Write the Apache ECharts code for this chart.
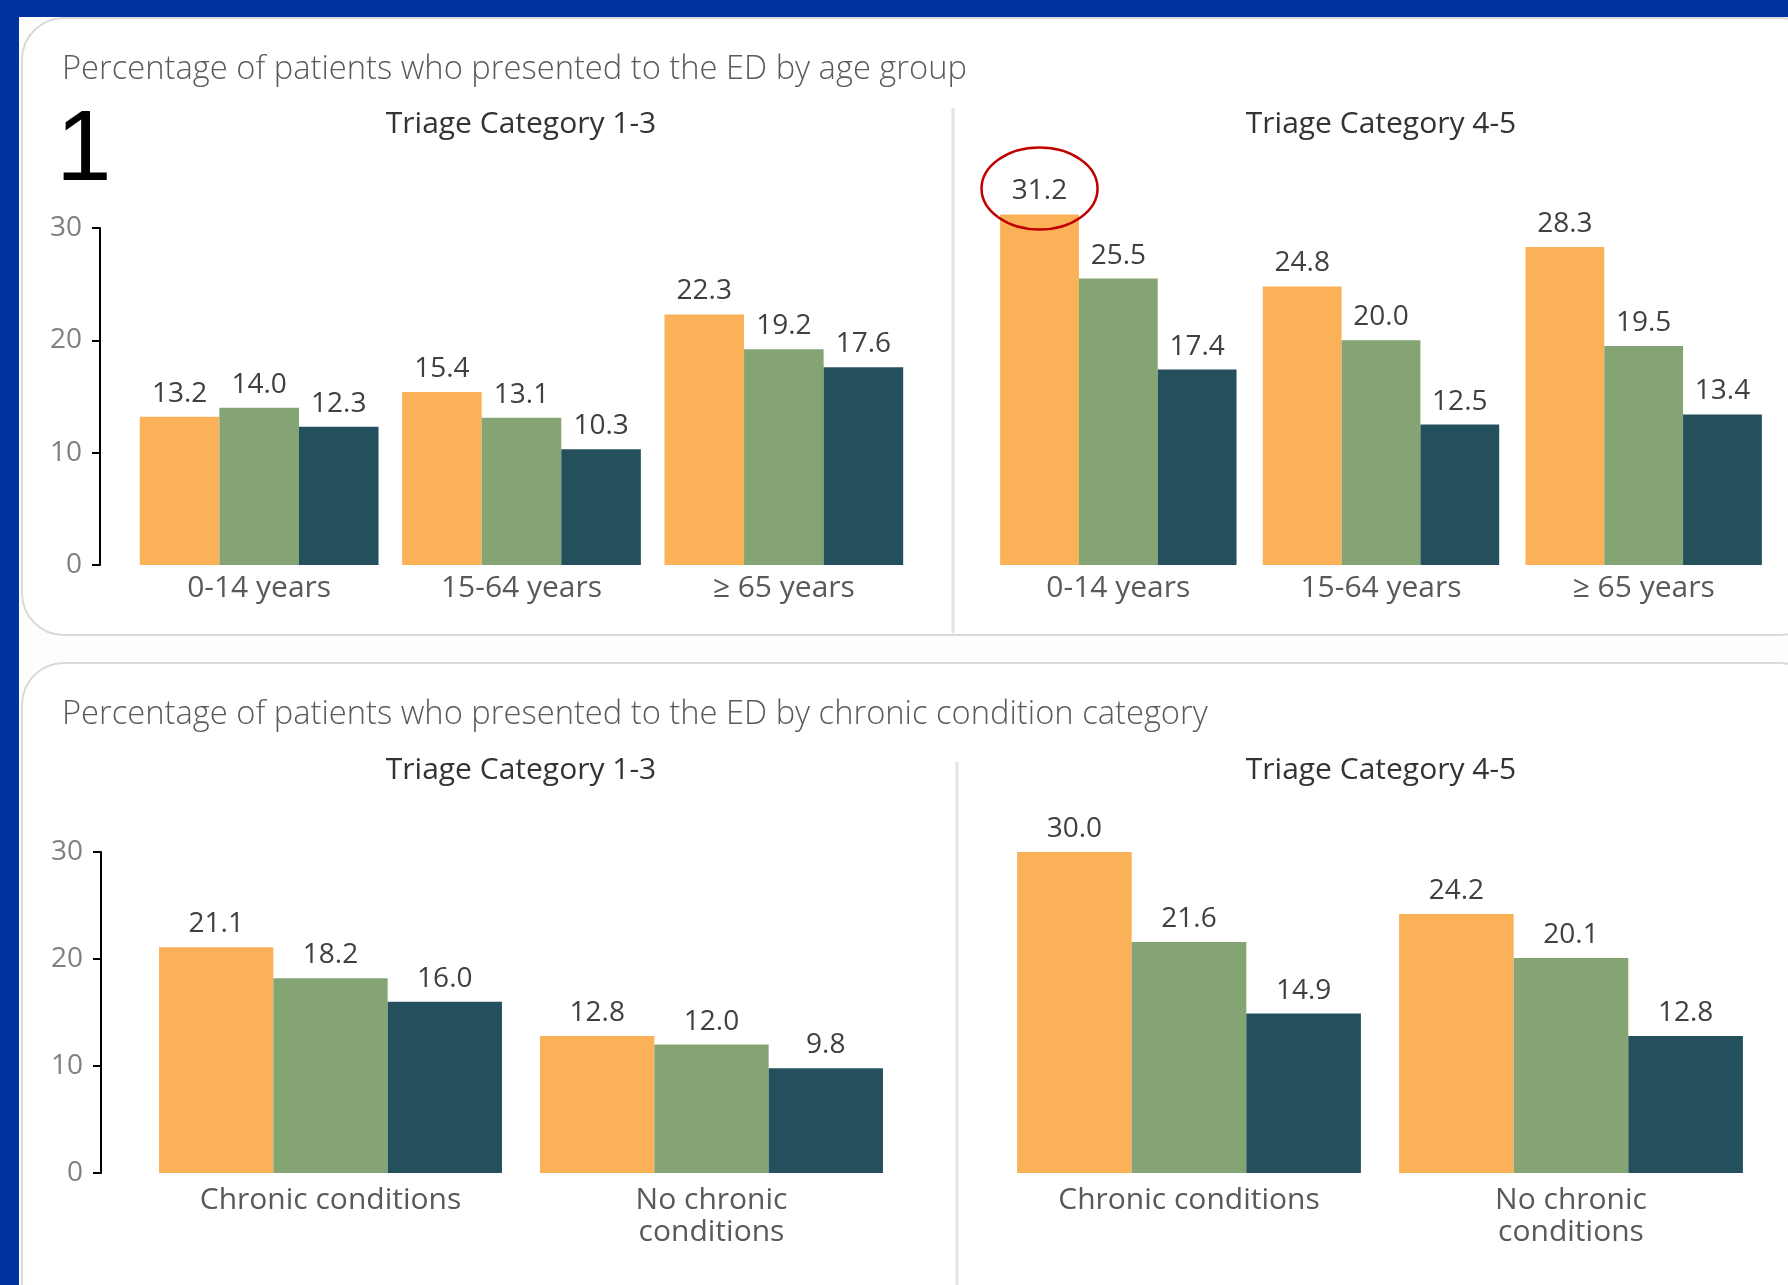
<!DOCTYPE html>
<html>
<head>
<meta charset="utf-8">
<script src="https://cdn.jsdelivr.net/npm/echarts@6/dist/echarts.min.js"></script>
<style>
html, body { margin: 0; padding: 0; background: #fff; }
#main { width: 1788px; height: 1285px; }
</style>
</head>
<body>
<div id="main"></div>
<script>
// categories
var ageCats = ['0-14 years', '15-64 years', '\u2265 65 years'];
var chronicCats = ['Chronic conditions', 'No chronic\nconditions'];

// age group, triage 1-3
var age13Orange = [13.2, 15.4, 22.3];
var age13Green = [14.0, 13.1, 19.2];
var age13Teal = [12.3, 10.3, 17.6];
// age group, triage 4-5
var age45Orange = [31.2, 24.8, 28.3];
var age45Green = [25.5, 20.0, 19.5];
var age45Teal = [17.4, 12.5, 13.4];
// chronic condition, triage 1-3
var chr13Orange = [21.1, 12.8];
var chr13Green = [18.2, 12.0];
var chr13Teal = [16.0, 9.8];
// chronic condition, triage 4-5
var chr45Orange = [30.0, 24.2];
var chr45Green = [21.6, 20.1];
var chr45Teal = [14.9, 12.8];

var yTicks = [0, 10, 20, 30];

var ORANGE = '#FBB157', GREEN = '#84A573', TEAL = '#244F5C';
var FONT = '"Open Sans", "Noto Sans", sans-serif';

var chart = echarts.init(document.getElementById('main'));

function bars(idx, name, vals, color, gap) {
    return {
        name: name,
        type: 'bar',
        xAxisIndex: idx,
        yAxisIndex: idx,
        data: vals,
        barGap: '0%',
        barCategoryGap: gap,
        clip: false,
        silent: true,
        itemStyle: {color: color},
        label: {
            show: true,
            position: 'top',
            distance: 9,
            color: '#404040',
            fontFamily: FONT,
            fontSize: 28,
            formatter: function (p) { return p.value.toFixed(1); }
        }
    };
}

function xAx(idx, cats) {
    return {
        type: 'category',
        gridIndex: idx,
        data: cats,
        axisLine: {show: false},
        axisTick: {show: false},
        axisLabel: {
            color: '#595959',
            fontFamily: FONT,
            fontSize: 30,
            lineHeight: 32,
            margin: idx < 2 ? 7 : 11,
            interval: 0
        }
    };
}

function yAx(idx, visible, offset) {
    return {
        type: 'value',
        gridIndex: idx,
        min: 0,
        max: 30,
        interval: 10,
        show: visible,
        offset: offset,
        splitLine: {show: false},
        axisLine: {show: true, lineStyle: {color: '#000', width: 2}},
        axisTick: {show: true, length: 8, lineStyle: {color: '#000', width: 2}},
        axisLabel: {
            color: '#808080',
            fontFamily: FONT,
            fontSize: 28,
            margin: 18,
            formatter: function (v) { return yTicks.indexOf(v) >= 0 ? String(v) : ''; }
        }
    };
}

function txt(x, y, s, size, color, weight, align) {
    return {
        type: 'text',
        x: x, y: y,
        silent: true,
        style: {
            text: s,
            fill: color,
            fontFamily: FONT,
            fontSize: size,
            fontWeight: weight,
            textAlign: align, align: align,
            textVerticalAlign: 'middle', verticalAlign: 'middle'
        }
    };
}

var graphics = [
    // page frame
    {type: 'rect', silent: true, z: -10, shape: {x: 0, y: 0, width: 1788, height: 1285}, style: {fill: '#0033A0'}},
    {type: 'rect', silent: true, z: -9, shape: {x: 19, y: 17, width: 1800, height: 1300}, style: {fill: '#fdfdfd'}},
    {type: 'rect', silent: true, z: -8, shape: {x: 22, y: 18, width: 1800, height: 617, r: 42},
        style: {fill: '#fff', stroke: '#d9d9d9', lineWidth: 2}},
    {type: 'rect', silent: true, z: -8, shape: {x: 22, y: 663, width: 1800, height: 700, r: 42},
        style: {fill: '#fff', stroke: '#d9d9d9', lineWidth: 2}},
    // dividers
    {type: 'line', silent: true, z: -7, shape: {x1: 953, y1: 108, x2: 953, y2: 633}, style: {stroke: '#e3e3e3', lineWidth: 3}},
    {type: 'line', silent: true, z: -7, shape: {x1: 957, y1: 762, x2: 957, y2: 1285}, style: {stroke: '#e3e3e3', lineWidth: 3}},
    // texts
    txt(62, 70, 'Percentage of patients who presented to the ED by age group', 32.7, '#5a5a5a', 300, 'left'),
    txt(62, 715, 'Percentage of patients who presented to the ED by chronic condition category', 32.7, '#5a5a5a', 300, 'left'),
    txt(521, 124, 'Triage Category 1-3', 30, '#333', 'normal', 'center'),
    txt(1381, 124, 'Triage Category 4-5', 30, '#333', 'normal', 'center'),
    txt(521, 770, 'Triage Category 1-3', 30, '#333', 'normal', 'center'),
    txt(1381, 770, 'Triage Category 4-5', 30, '#333', 'normal', 'center'),
    {type: 'text', x: 56, y: 152, silent: true,
        style: {text: '1', fill: '#000', fontFamily: '"Liberation Sans", Arial, sans-serif', fontSize: 100,
            textAlign: 'left', align: 'left', textVerticalAlign: 'middle', verticalAlign: 'middle'}}
];

var option = {
    animation: false,
    backgroundColor: '#fff',
    grid: [
        {left: 128, top: 228, width: 787, height: 337},
        {left: 987, top: 228, width: 788, height: 337},
        {left: 140, top: 852, width: 762, height: 321},
        {left: 998, top: 852, width: 764, height: 321}
    ],
    xAxis: [xAx(0, ageCats), xAx(1, ageCats), xAx(2, chronicCats), xAx(3, chronicCats)],
    yAxis: [yAx(0, true, 28), yAx(1, false, 0), yAx(2, true, 39), yAx(3, false, 0)],
    graphic: graphics,
    series: [
        bars(0, 'a', age13Orange, ORANGE, '9%'),
        bars(0, 'b', age13Green, GREEN, '9%'),
        bars(0, 'c', age13Teal, TEAL, '9%'),
        bars(1, 'a', age45Orange, ORANGE, '10%'),
        bars(1, 'b', age45Green, GREEN, '10%'),
        bars(1, 'c', age45Teal, TEAL, '10%'),
        bars(2, 'a', chr13Orange, ORANGE, '10%'),
        bars(2, 'b', chr13Green, GREEN, '10%'),
        bars(2, 'c', chr13Teal, TEAL, '10%'),
        bars(3, 'a', chr45Orange, ORANGE, '10%'),
        bars(3, 'b', chr45Green, GREEN, '10%'),
        bars(3, 'c', chr45Teal, TEAL, '10%')
    ]
};
chart.setOption(option);

// red ring around the highest value (triage 4-5, 0-14 years)
var lay = chart.getModel().getSeriesByIndex(3).getData().getItemLayout(0);
if (lay) {
    var barTop = Math.min(lay.y, lay.y + lay.height);
    graphics.push({
        type: 'ellipse', silent: true, z: 100,
        shape: {cx: lay.x + lay.width / 2, cy: barTop - 26, rx: 58, ry: 41},
        style: {fill: 'none', stroke: '#C00000', lineWidth: 2.5}
    });
    chart.setOption({graphic: graphics});
}
</script>
</body>
</html>
